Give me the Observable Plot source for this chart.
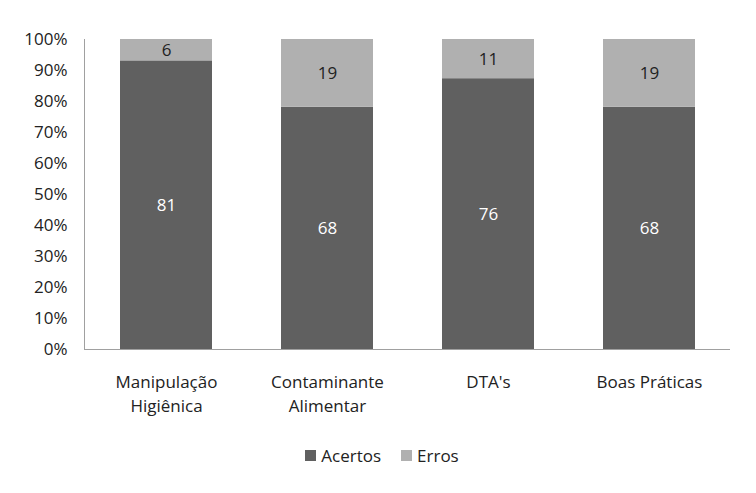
<!DOCTYPE html>
<html>
<head>
<meta charset="utf-8">
<script src="https://cdn.jsdelivr.net/npm/d3@7"></script>
<script src="https://cdn.jsdelivr.net/npm/@observablehq/plot@0.6"></script>
<style>
  body { margin: 0; background: #fff; font-family: "Open Sans", sans-serif; }
  #legend { display: flex; justify-content: center; gap: 20px; font-size: 17px; color: #222; margin-top: 24px; margin-left: 8px; }
  #legend span.sw { display: inline-block; width: 11px; height: 11px; margin-right: 5px; }
  #legend div { display: flex; align-items: center; }
</style>
</head>
<body>
<div id="chart"></div>
<div id="legend"></div>
<script>
const categories = ["Manipulação\nHigiênica", "Contaminante\nAlimentar", "DTA's", "Boas Práticas"];
const acertos = [81, 68, 76, 68];
const erros = [6, 19, 11, 19];
const seriesNames = ["Acertos", "Erros"];
const seriesColors = ["#606060", "#b0b0b0"];
const textColors = ["#ffffff", "#222222"];
const yTicks = [0, 0.1, 0.2, 0.3, 0.4, 0.5, 0.6, 0.7, 0.8, 0.9, 1.0];

const data = [];
categories.forEach((c, i) => {
  data.push({cat: c, series: "Acertos", value: acertos[i]});
  data.push({cat: c, series: "Erros", value: erros[i]});
});

const stackOpts = {x: "cat", y: "value", z: "series", offset: "normalize", order: seriesNames};

const chart = Plot.plot({
  width: 756,
  height: 420,
  marginLeft: 84,
  marginRight: 26,
  marginTop: 39,
  marginBottom: 71,
  style: {fontFamily: "'Open Sans', sans-serif", fontSize: "17px", color: "#222"},
  x: {domain: categories, paddingInner: 0.43, paddingOuter: 0.215, label: null},
  y: {domain: [0, 1], label: null},
  color: {domain: seriesNames, range: seriesColors},
  marks: [
    Plot.barY(data, Plot.stackY({...stackOpts, fill: "series"})),
    Plot.text(data, Plot.stackY({...stackOpts, text: "value", fill: (d) => textColors[seriesNames.indexOf(d.series)], fontSize: 17})),
    Plot.axisY({ticks: yTicks, tickFormat: d3.format(".0%"), tickSize: 0, tickPadding: 17, fontSize: 17}),
    Plot.axisX({tickSize: 0, tickPadding: 22, fontSize: 17, lineHeight: 1.4}),
    Plot.frame({anchor: "left", stroke: "#a0a0a0"}),
    Plot.ruleY([0], {stroke: "#a0a0a0"})
  ]
});
document.getElementById("chart").appendChild(chart);

const legend = document.getElementById("legend");
seriesNames.forEach((s, i) => {
  const d = document.createElement("div");
  d.innerHTML = `<span class="sw" style="background:${seriesColors[i]}"></span>${s}`;
  legend.appendChild(d);
});
</script>
</body>
</html>
